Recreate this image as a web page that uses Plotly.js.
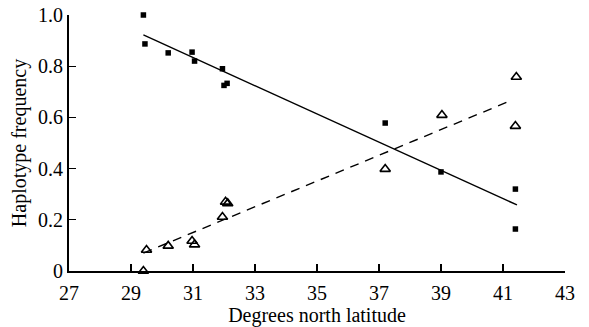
<!DOCTYPE html>
<html>
<head>
<meta charset="utf-8">
<script src="https://cdn.plot.ly/plotly-3.0.1.min.js"></script>
<style>html,body{margin:0;padding:0;background:#fff;}#chart{width:589px;height:327px;}</style>
</head>
<body>
<div id="chart"></div>
<script>
// Squares (filled)
const sqLat  = [29.4, 29.45, 30.2, 30.97, 31.05, 31.95, 32.0, 32.1, 37.2, 39.0, 41.4, 41.4];
const sqFreq = [1.0, 0.887, 0.852, 0.855, 0.82, 0.79, 0.725, 0.733, 0.578, 0.387, 0.32, 0.164];
// Triangles (open)
const trLat  = [29.4, 29.5, 30.2, 30.97, 31.05, 31.95, 32.05, 32.12, 37.2, 39.03, 41.4, 41.43];
const trFreq = [0.0, 0.082, 0.098, 0.117, 0.103, 0.211, 0.27, 0.264, 0.398, 0.609, 0.566, 0.758];
// Fitted lines (endpoints)
const solidLat  = [29.4, 41.45];
const solidFreq = [0.922, 0.258];
const dashLat   = [29.4, 41.3];
const dashFreq  = [0.07, 0.668];
// Ticks
const xTicks = [27, 29, 31, 33, 35, 37, 39, 41, 43];
const yTicks = [0, 0.2, 0.4, 0.6, 0.8, 1.0];
const yTickText = ["0", "0.2", "0.4", "0.6", "0.8", "1.0"];

const data = [
  {x: solidLat, y: solidFreq, mode: 'lines', line: {color: '#000', width: 1.4}, hoverinfo: 'skip'},
  {x: dashLat, y: dashFreq, mode: 'lines', line: {color: '#000', width: 1.4, dash: '9px,7px'}, hoverinfo: 'skip'},
  {x: sqLat, y: sqFreq, mode: 'markers', marker: {symbol: 'square', size: 5.5, color: '#000'}, cliponaxis: false},
  {x: trLat, y: trFreq, mode: 'markers', marker: {symbol: 'triangle-up-open', size: 9, color: '#000', line: {width: 1.6, color: '#000'}}, cliponaxis: false}
];

const font = {family: '"Liberation Serif", "Times New Roman", serif', size: 20, color: '#000'};
const layout = {
  width: 589, height: 327,
  margin: {l: 69, r: 24, t: 15, b: 56},
  paper_bgcolor: '#fff', plot_bgcolor: '#fff',
  showlegend: false,
  font: font,
  xaxis: {
    range: [27, 43], tickvals: xTicks, ticktext: xTicks.map(String),
    showline: true, linecolor: '#000', linewidth: 2,
    ticks: 'inside', ticklen: 7, tickwidth: 1.3, tickcolor: '#000',
    ticklabelstandoff: 3,
    showgrid: false, zeroline: false,
    tickfont: font,
    title: {text: 'Degrees north latitude', font: font, standoff: 1}
  },
  yaxis: {
    range: [0, 1.0], tickvals: yTicks, ticktext: yTickText,
    showline: true, linecolor: '#000', linewidth: 2,
    ticks: 'inside', ticklen: 7, tickwidth: 1.3, tickcolor: '#000',
    showgrid: false, zeroline: false,
    tickfont: font,
    title: {text: 'Haplotype frequency', font: font, standoff: 6}
  }
};
Plotly.newPlot('chart', data, layout, {displayModeBar: false, staticPlot: true});
</script>
</body>
</html>
